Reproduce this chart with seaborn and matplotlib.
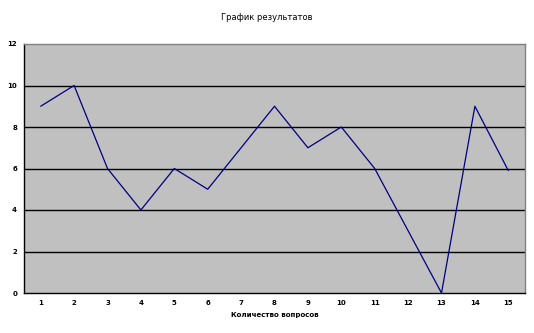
import matplotlib
matplotlib.use("Agg")
import matplotlib.pyplot as plt
import seaborn as sns
import pandas as pd
import numpy as np

questions = list(range(1, 16))
results = [9, 10, 6, 4, 6, 5, 7, 9, 7, 8, 6, 3, 0, 9, 5.9]
title = "График результатов"
xlabel = "Количество вопросов"

df = pd.DataFrame({"q": questions, "r": results})

sns.set_style("white")
plt.rcParams['font.family'] = ['DejaVu Sans']
plt.rcParams['text.color'] = 'black'
plt.rcParams['axes.labelcolor'] = 'black'
plt.rcParams['xtick.color'] = 'black'
plt.rcParams['ytick.color'] = 'black'

fig = plt.figure(figsize=(5.34, 3.33), dpi=100)
ax = fig.add_axes([24/534, 1 - 293/333, (525-24)/534, (293-44)/333])
ax.set_facecolor("#C0C0C0")

sns.lineplot(data=df, x="q", y="r", ax=ax, color="#000080", linewidth=0.9)

ax.set_xlim(0.5, 15.5)
ax.set_ylim(0, 12)
ax.set_yticks(range(0, 13, 2))
ax.set_yticklabels([str(v) for v in range(0, 13, 2)], fontsize=5, fontweight="bold", color="black")
for y in range(2, 12, 2):
    ax.axhline(y, color="black", linewidth=1, zorder=1)

ax.set_xticks(np.arange(0.5, 16, 1))
ax.set_xticklabels([])
ax.set_xticks(questions, minor=True)
ax.set_xticklabels([str(q) for q in questions], minor=True, fontsize=5, fontweight="bold", color="black")
ax.tick_params(axis="x", which="major", direction="out", length=3, width=0.8, color="black")
ax.tick_params(axis="x", which="minor", length=0, pad=5)
ax.tick_params(axis="y", direction="out", length=3, width=0.8, color="black", pad=2)

for side in ["left", "bottom"]:
    ax.spines[side].set_color("black")
    ax.spines[side].set_linewidth(1)
for side in ["top", "right"]:
    ax.spines[side].set_color("#808080")
    ax.spines[side].set_linewidth(1)

ax.set_xlabel(xlabel, fontsize=5, fontweight="bold", labelpad=4, color="black")
ax.set_ylabel("")
fig.text(0.5, 1 - 18/333, title, ha="center", va="center", fontsize=6, color="black")

fig.savefig("out.png", dpi=100)
